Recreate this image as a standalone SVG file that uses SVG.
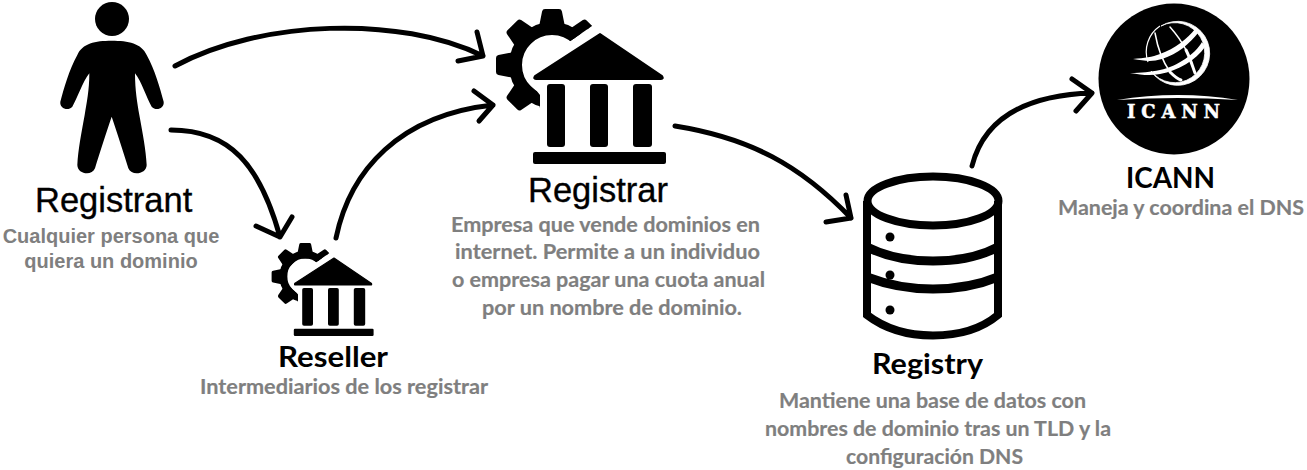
<svg xmlns="http://www.w3.org/2000/svg" width="1307" height="470" viewBox="0 0 1307 470">
<style>
.conn{fill:none;stroke:#000;stroke-width:5;stroke-linecap:round;stroke-linejoin:round}
.t1{font-family:"Liberation Sans",Arial,sans-serif;font-size:34.5px;fill:#000;stroke:#000;stroke-width:.35}
.t2{font-family:Lato,"Open Sans",sans-serif;font-weight:700;font-size:29px;fill:#000}
.d1{font-family:"Liberation Sans",Arial,sans-serif;font-weight:700;font-size:20px;fill:#7f7f7f;text-anchor:middle}
.d2{font-family:Lato,"Open Sans",sans-serif;font-weight:700;font-size:21px;fill:#7f7f7f;stroke:#7f7f7f;stroke-width:.2}
.db{fill:none;stroke:#000;stroke-width:8}
.tooth{fill:#000;stroke:#000;stroke-width:6;stroke-linejoin:round}
.gl{fill:none;stroke:#fff;stroke-linecap:round}
</style>
<defs>
<clipPath id="gearclip"><polygon points="480,0 600,0 592,26 530,69 532,85 540,95 540,125 480,125"/></clipPath>
<path id="tooth" class="tooth" d="M545 12 H559 L563 32 H541 Z"/>
<g id="bank">
<g clip-path="url(#gearclip)">
<circle cx="552" cy="65" r="36.500" fill="none" stroke="#000" stroke-width="13"/>
<use href="#tooth"/>
<use href="#tooth" transform="rotate(45 552 65)"/>
<use href="#tooth" transform="rotate(135 552 65)"/>
<use href="#tooth" transform="rotate(180 552 65)"/>
<use href="#tooth" transform="rotate(225 552 65)"/>
<use href="#tooth" transform="rotate(270 552 65)"/>
<use href="#tooth" transform="rotate(315 552 65)"/>
</g>
<path d="M600 34 L662 76 Q664 79 661 79 L536 79 Q533 79 535 76 Z" fill="#000" stroke="#000" stroke-width="2" stroke-linejoin="round"/>
<rect x="547" y="84" width="18" height="63" rx="3"/>
<rect x="590" y="84" width="18" height="63" rx="3"/>
<rect x="633" y="84" width="19" height="63" rx="3"/>
<rect x="533" y="152" width="133" height="12" rx="2"/>
</g>
</defs>

<g id="connectors" class="conn">
<path d="M175 66 C260 20 400 15 483 56 M477 32 L483 56 L458 61"/>
<path d="M171 130 C230 130 260 165 280 237 M292 217 L280 237 L256 226"/>
<path d="M336 238 C350 170 400 115 493 105 M474 91 L493 105 L479 121"/>
<path d="M675 126 C750 138 800 165 851 218 M846 195 L851 218 L826 222"/>
<path d="M972 166 C985 115 1030 95 1092 93 M1072 79 L1092 93 L1076 111"/>
</g>

<g id="registrant">
<circle cx="112" cy="19" r="17"/>
<g transform="scale(.33333)">
<path d="M335 122 C385 122 425 130 440 165 C465 210 480 265 491 305 C494 325 468 335 455 320 C440 295 425 245 405 220 C405 270 412 310 418 345 C428 400 438 450 440 495 C440 522 395 530 385 505 C370 455 350 395 335 350 C320 395 300 455 285 505 C275 530 232 522 232 495 C234 450 244 400 254 345 C260 310 268 270 268 220 C248 245 232 295 217 320 C204 335 178 325 181 305 C192 265 207 210 232 165 C247 130 285 122 335 122 Z"/>
</g>
<text class="t1" x="35" y="212">Registrant</text>
<text class="d1" x="111" y="243">Cualquier persona que</text>
<text class="d1" x="111" y="268">quiera un dominio</text>
</g>

<g id="reseller">
<use href="#bank" transform="translate(-26 237.6) scale(.6)"/>
<text class="t2" x="278" y="367" textLength="110" lengthAdjust="spacingAndGlyphs">Reseller</text>
<text class="d2" x="200" y="394" textLength="288" lengthAdjust="spacingAndGlyphs">Intermediarios de los registrar</text>
</g>

<g id="registrar">
<use href="#bank"/>
<text class="t1" x="528" y="202">Registrar</text>
<text class="d2" x="451" y="232" textLength="309" lengthAdjust="spacingAndGlyphs">Empresa que vende dominios en</text>
<text class="d2" x="455" y="259" textLength="305" lengthAdjust="spacingAndGlyphs">internet. Permite a un individuo</text>
<text class="d2" x="452" y="287" textLength="313" lengthAdjust="spacingAndGlyphs">o empresa pagar una cuota anual</text>
<text class="d2" x="482" y="315" textLength="260" lengthAdjust="spacingAndGlyphs">por un nombre de dominio.</text>
</g>

<g id="registry">
<ellipse class="db" cx="933" cy="201" rx="65.5" ry="24.5" stroke-width="9"/>
<path class="db" d="M867 201 V315 C880 325 900 335.500 933 335.500 C966 335.500 986 325 998 315 V201"/>
<path class="db" style="stroke-width:9" d="M867 247 C885 256 905 261 933 261 C961 261 981 256 998 247"/>
<path class="db" style="stroke-width:9" d="M867 277 C885 284 905 289 933 289 C961 289 981 284 998 277"/>
<circle cx="890" cy="237" r="4.500"/>
<circle cx="890" cy="275" r="4.500"/>
<circle cx="890" cy="310" r="4.500"/>
<text class="t2" x="872" y="374" textLength="111" lengthAdjust="spacingAndGlyphs">Registry</text>
<text class="d2" x="779" y="408" textLength="307" lengthAdjust="spacingAndGlyphs">Mantiene una base de datos con</text>
<text class="d2" x="765" y="436" textLength="346" lengthAdjust="spacingAndGlyphs">nombres de dominio tras un TLD y la</text>
<text class="d2" x="846" y="464" textLength="177" lengthAdjust="spacingAndGlyphs">configuración DNS</text>
</g>

<g id="icann">
<circle cx="1174" cy="79" r="75.500"/>
<path d="M1161 26 A32 32 0 1 1 1151 71 A30 30 0 1 0 1161 26 Z" fill="#fff" stroke="#fff" stroke-width=".8"/>
<path d="M1160 26 A31 31 0 0 0 1148 62" fill="none" stroke="#fff" stroke-width="1.200"/>
<path class="gl" stroke-width="1.500" d="M1155 33 C1158 50 1163 62 1170 72"/>
<path class="gl" stroke-width="3" d="M1170 72 C1174 76 1177 79 1181 80"/>
<path class="gl" stroke-width="1.500" d="M1170 27 C1178 36 1183 44 1186 50"/>
<path class="gl" stroke-width="3" d="M1186 50 C1191 60 1193 68 1195 73"/>
<path d="M1133 59 C1145 58 1152 57 1160 54 C1175 49 1188 38 1195 29 L1198 33 C1190 43 1178 54 1162 59 C1152 62 1145 61 1133 59 Z" fill="#fff"/>
<path d="M1130 73 C1142 73 1150 72 1160 70 C1178 66 1195 54 1202 42 L1205 47 C1196 60 1178 71 1160 74 C1150 76 1142 75 1130 73 Z" fill="#fff"/>
<path d="M1117 100 Q1178 90 1238 100 Q1178 96 1117 100 Z" fill="#fff"/>
<text x="1127" y="118" font-family="'DejaVu Serif',serif" font-weight="700" font-size="18px" fill="#fff" stroke="#fff" stroke-width=".5" textLength="93">ICANN</text>
<text class="t2" x="1126" y="188" textLength="89" lengthAdjust="spacingAndGlyphs">ICANN</text>
<text class="d2" x="1058" y="215" textLength="246" lengthAdjust="spacingAndGlyphs">Maneja y coordina el DNS</text>
</g>
</svg>
